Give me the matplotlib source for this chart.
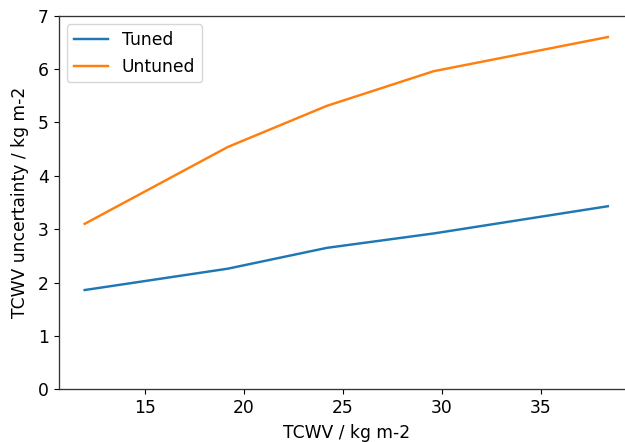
import numpy as np
import matplotlib
matplotlib.use('Agg')
import matplotlib.pyplot as plt

# values
tcwv = [11.97, 19.2, 24.2, 29.6, 38.4]
tuned = [1.86, 2.26, 2.65, 2.92, 3.43]
untuned = [3.10, 4.54, 5.31, 5.96, 6.60]

plt.rcParams['font.size'] = 12.3
plt.rcParams['axes.linewidth'] = 0.95
plt.rcParams['axes.edgecolor'] = '#333333'

fig = plt.figure(figsize=(6.25, 4.42), dpi=100)
# the reference is cropped on the right, so the axes run past the figure edge
ax = fig.add_axes([0.0936, 0.1192, 0.9208, 0.8453])
ax.plot(tcwv, tuned, label='Tuned', lw=1.75)
ax.plot(tcwv, untuned, label='Untuned', lw=1.75)
ax.set_ylim(0, 7)
ax.spines['right'].set_visible(False)
ax.set_xlabel('TCWV / kg m-2', labelpad=5)
ax.set_ylabel('TCWV uncertainty / kg m-2', labelpad=6)
ax.legend(loc='upper left')
fig.savefig('out.png', dpi=100)
